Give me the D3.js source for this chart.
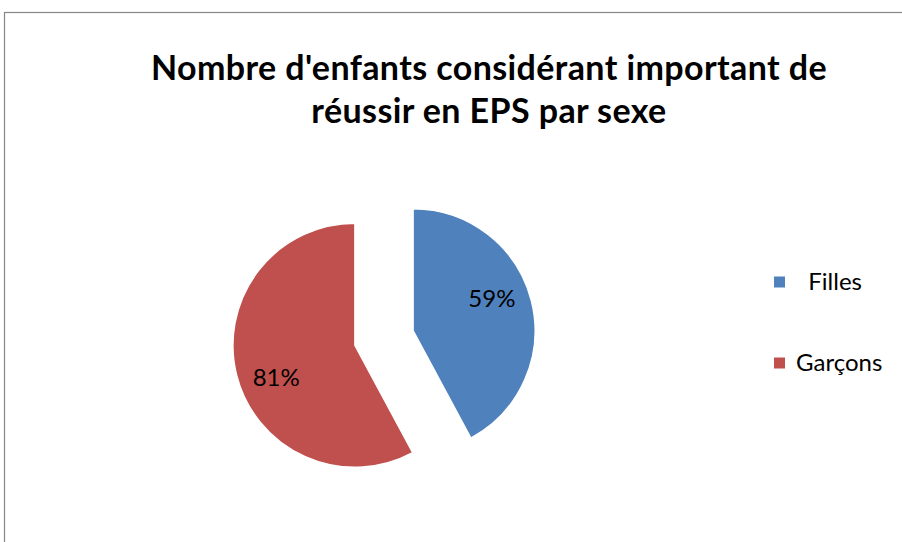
<!DOCTYPE html>
<html>
<head>
<meta charset="utf-8">
<script src="https://cdn.jsdelivr.net/npm/d3@7"></script>
<style>
  body { margin: 0; background: #fff; }
  text { font-family: Lato, "Open Sans", sans-serif; white-space: pre; }
</style>
</head>
<body>
<div id="chart"></div>
<script>
// donnees du graphique
var categories = ["  Filles", "Garçons"];
var valeurs = [59, 81];
var couleurs = ["#4F81BD", "#C0504D"];
var titre = ["Nombre d'enfants considérant important de", "réussir en EPS par sexe"];

var largeur = 902, hauteur = 542;

var svg = d3.select("#chart")
    .append("svg")
    .attr("width", largeur)
    .attr("height", hauteur);

// cadre du graphique (coupe a droite et en bas)
svg.append("rect")
    .attr("x", 4.5)
    .attr("y", 12.5)
    .attr("width", 1000)
    .attr("height", 1000)
    .attr("fill", "#fff")
    .attr("stroke", "#878787")
    .attr("stroke-width", 1.2);

// titre
svg.selectAll(".titre")
    .data(titre)
    .enter()
    .append("text")
    .attr("class", "titre")
    .attr("x", 489)
    .attr("y", function (d, i) { return 80 + i * 43; })
    .attr("text-anchor", "middle")
    .attr("font-size", 34)
    .attr("letter-spacing", 0.4)
    .attr("font-weight", "bold")
    .attr("fill", "#000")
    .text(function (d) { return d; });

// secteurs
var cx = 384, cy = 338, R = 122, eclat = 30;

var pie = d3.pie().sort(null).value(function (d) { return d; });
var arc = d3.arc().innerRadius(0).outerRadius(R);
var rLabel = 85, decalage = -8 * Math.PI / 180;

var g = svg.append("g").attr("transform", "translate(" + cx + "," + cy + ")");

var parts = pie(valeurs);

var secteurs = g.selectAll(".secteur")
    .data(parts)
    .enter()
    .append("g")
    .attr("class", "secteur")
    .attr("transform", function (d) {
        var a = (d.startAngle + d.endAngle) / 2;
        return "translate(" + (eclat * Math.sin(a)) + "," + (-eclat * Math.cos(a)) + ")";
    });

secteurs.append("path")
    .attr("d", arc)
    .attr("fill", function (d, i) { return couleurs[i]; })
    .attr("stroke", "#fff")
    .attr("stroke-width", 1.5);

secteurs.append("text")
    .attr("transform", function (d) {
        var a = (d.startAngle + d.endAngle) / 2 + decalage;
        return "translate(" + (rLabel * Math.sin(a)) + "," + (-rLabel * Math.cos(a)) + ")";
    })
    .attr("text-anchor", "middle")
    .attr("dy", "0.35em")
    .attr("font-size", 24)
    .attr("fill", "#000")
    .text(function (d) { return d.value + "%"; });

// legende
var yLeg = d3.scalePoint().domain(categories).range([282, 363]);

var leg = svg.selectAll(".leg")
    .data(categories)
    .enter()
    .append("g")
    .attr("class", "leg")
    .attr("transform", function (d) { return "translate(774," + yLeg(d) + ")"; });

leg.append("rect")
    .attr("x", 0)
    .attr("y", -5.5)
    .attr("width", 11)
    .attr("height", 11)
    .attr("fill", function (d, i) { return couleurs[i]; });

leg.append("text")
    .attr("x", 22)
    .attr("dy", "0.35em")
    .attr("font-size", 24)
    .attr("fill", "#000")
    .text(function (d) { return d; });
</script>
</body>
</html>
